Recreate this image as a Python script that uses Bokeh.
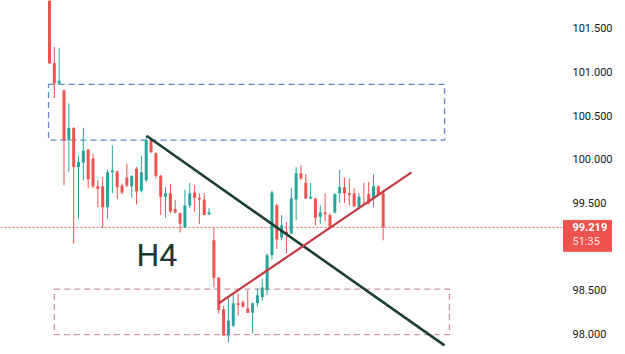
from bokeh.plotting import figure
from bokeh.models import ColumnDataSource, Range1d, Label, Grid
from bokeh.core.properties import value
from bokeh.embed import file_html
from bokeh.resources import INLINE

# ---------------- data ----------------
opens = [102.00, 101.10, 100.87, 100.79, 100.22, 100.36, 99.91, 99.96, 100.11, 100.01,
         99.69, 99.69, 99.45, 99.85, 99.86, 99.70, 99.79, 99.69, 99.89, 99.64,
         99.76, 100.22, 100.07, 99.81, 99.57, 99.61, 99.43, 99.38, 99.22, 99.47,
         99.62, 99.56, 99.54, 99.37, 99.07, 98.64, 98.28, 97.98, 98.09, 98.35,
         98.36, 98.29, 98.24, 98.35, 98.42, 98.50, 98.90, 99.47, 99.10, 99.17,
         99.15, 99.54, 99.84, 99.73, 99.55, 99.55, 99.34, 99.39, 99.36, 99.39,
         99.61, 99.68, 99.61, 99.61, 99.45, 99.49, 99.60, 99.55, 99.69, 99.61]
highs = [102.05, 101.29, 101.28, 100.80, 100.64, 100.37, 100.04, 100.36, 100.12, 100.06,
         99.76, 99.80, 99.88, 100.16, 99.87, 99.72, 99.95, 99.81, 99.91, 100.04,
         100.27, 100.24, 100.08, 99.82, 99.68, 99.72, 99.53, 99.39, 99.65, 99.73,
         99.70, 99.61, 99.61, 99.44, 99.21, 98.65, 98.32, 98.42, 98.46, 98.46,
         98.38, 98.50, 98.36, 98.52, 98.63, 98.92, 99.64, 99.49, 99.36, 99.28,
         99.67, 99.91, 99.93, 99.83, 99.73, 99.56, 99.47, 99.61, 99.38, 99.61,
         99.88, 99.79, 99.78, 99.67, 99.61, 99.73, 99.74, 99.83, 99.70, 99.65]
lows = [101.09, 100.70, 100.85, 99.70, 99.85, 99.03, 99.32, 99.76, 99.67, 99.67,
        99.45, 99.21, 99.32, 99.61, 99.54, 99.60, 99.68, 99.56, 99.48, 99.62,
        99.74, 100.07, 99.78, 99.36, 99.33, 99.38, 99.38, 99.16, 99.21, 99.44,
        99.40, 99.26, 99.36, 99.36, 98.53, 98.23, 97.98, 97.90, 98.08, 98.21,
        98.30, 98.24, 98.00, 98.31, 98.38, 98.44, 98.85, 98.97, 99.07, 98.92,
        99.14, 99.30, 99.76, 99.55, 99.55, 99.24, 99.26, 99.29, 99.22, 99.38,
        99.50, 99.50, 99.47, 99.45, 99.44, 99.47, 99.48, 99.45, 99.58, 99.07]
closes = [101.10, 100.87, 100.90, 100.22, 100.36, 99.91, 99.97, 100.10, 99.77, 99.69,
          99.66, 99.45, 99.85, 99.87, 99.68, 99.62, 99.70, 99.81, 99.63, 99.85,
          100.22, 100.08, 99.81, 99.57, 99.61, 99.40, 99.39, 99.26, 99.47, 99.61,
          99.56, 99.54, 99.36, 99.39, 98.64, 98.27, 97.98, 98.15, 98.35, 98.33,
          98.31, 98.24, 98.35, 98.44, 98.53, 98.90, 99.62, 99.08, 99.24, 99.15,
          99.55, 99.84, 99.78, 99.55, 99.57, 99.33, 99.39, 99.37, 99.23, 99.60,
          99.68, 99.61, 99.59, 99.46, 99.57, 99.48, 99.50, 99.69, 99.59, 99.219]

price_ticks = [98.0, 98.5, 99.0, 99.5, 100.0, 100.5, 101.0, 101.5]
price_tick_labels = ["98.000", "98.500", "99.000", "99.500",
                     "100.000", "100.500", "101.000", "101.500"]
last_price = 99.219
last_price_label = "99.219"
countdown = "51:35"
timeframe_label = "H4"

# zones (candle index / price)
supply_x = [-0.2, 81.7]
supply_y = [100.22, 100.86]
demand_x = [1.0, 82.7]
demand_y = [97.99, 98.51]

# trend lines (candle index / price)
down_line_x = [20.06, 81.68]
down_line_y = [100.27, 97.865]
up_line_x = [34.95, 74.86]
up_line_y = [98.346, 99.849]

# ---------------- layout constants (styling) ----------------
UP = "#26a69a"
DOWN = "#ef5350"
X0, X1 = -10.13, 119.11          # whole canvas in candle-index units
PANE_RIGHT = 106.08              # right edge of the price pane
SCALE_TEXT_X = 108.15            # left of the price-scale labels
TAG_LEFT, TAG_RIGHT = 106.29, 116.21
Y0, Y1 = 97.761, 101.821

idx = list(range(len(opens)))
colors = [UP if c >= o else DOWN for o, c in zip(opens, closes)]
tops = [max(o, c) for o, c in zip(opens, closes)]
bots = [min(o, c) for o, c in zip(opens, closes)]
src = ColumnDataSource(dict(x=idx, o=opens, h=highs, l=lows, c=closes,
                            top=tops, bot=bots, color=colors))

p = figure(width=625, height=354, output_backend="svg", toolbar_location=None,
           x_range=Range1d(X0, X1), y_range=Range1d(Y0, Y1),
           min_border=0, x_axis_location=None, y_axis_location=None)
p.outline_line_color = None
p.background_fill_color = "white"
p.border_fill_color = "white"
for r in list(p.center):
    if isinstance(r, Grid):
        r.visible = False

# zones
p.quad(left=[supply_x[0]], right=[supply_x[1]], bottom=[supply_y[0]], top=[supply_y[1]],
       fill_alpha=0, line_color="#6a83c6", line_width=1.3, line_dash="6 4")
p.quad(left=[demand_x[0]], right=[demand_x[1]], bottom=[demand_y[0]], top=[demand_y[1]],
       fill_alpha=0, line_color="#c99aa1", line_width=1.3, line_dash="6 4")

# last price dotted line (pane only)
p.segment(x0=[X0], y0=[last_price], x1=[PANE_RIGHT], y1=[last_price],
          line_color=DOWN, line_dash="2 2", line_width=1, line_alpha=0.9)

# candles
p.segment(x0="x", y0="l", x1="x", y1="h", color="color", line_width=1, source=src)
p.vbar(x="x", width=0.62, top="top", bottom="bot", fill_color="color",
       line_color=None, source=src)

# trend lines
p.line(down_line_x, down_line_y, line_color="#1b3f31", line_width=2.6)
p.line(up_line_x, up_line_y, line_color="#c43a40", line_width=2.2)

# H4 label
p.add_layout(Label(x=17.99, y=98.90, text=timeframe_label, text_font="Roboto",
                   text_font_size="32px", text_color="#163a2e",
                   text_baseline="alphabetic", text_align="left"))

# price scale labels
p.text(x=[SCALE_TEXT_X] * len(price_ticks), y=price_ticks, text=price_tick_labels,
       text_font=value("Roboto"), text_font_size=value("11px"),
       text_color="#131722", text_align="left", text_baseline="middle")

# last-price tag
p.quad(left=[TAG_LEFT], right=[TAG_RIGHT],
       top=[last_price + 0.080], bottom=[last_price - 0.275],
       fill_color=DOWN, line_color=DOWN, line_width=1)
p.text(x=[SCALE_TEXT_X], y=[last_price], text=[last_price_label],
       text_font=value("Roboto"), text_font_size=value("11px"), text_font_style="bold",
       text_color="white", text_align="left", text_baseline="middle")
p.text(x=[SCALE_TEXT_X], y=[last_price - 0.165], text=[countdown],
       text_font=value("Roboto"), text_font_size=value("11px"),
       text_color="white", text_alpha=0.85, text_align="left", text_baseline="middle")

open("out.html", "w").write(file_html(p, INLINE))
